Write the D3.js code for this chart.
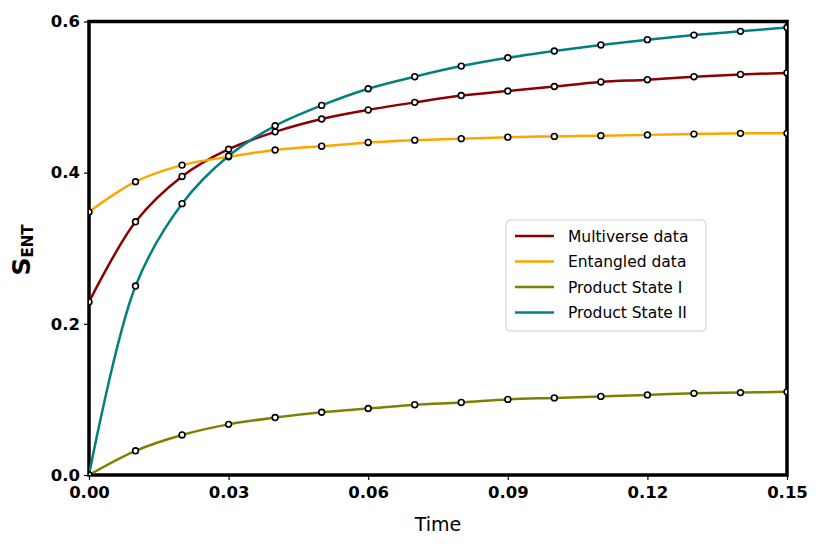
<!DOCTYPE html>
<html>
<head>
<meta charset="utf-8">
<script src="https://cdn.jsdelivr.net/npm/d3@7"></script>
<style>
  body { margin: 0; background: #fff; }
  text { font-family: "DejaVu Sans", sans-serif; }
</style>
</head>
<body>
<div id="chart"></div>
<script>
// sample times (markers every 0.01)
var times = [0, 0.01, 0.02, 0.03, 0.04, 0.05, 0.06, 0.07, 0.08, 0.09, 0.10, 0.11, 0.12, 0.13, 0.14, 0.15];
var multiverse = [0.229, 0.335, 0.395, 0.431, 0.454, 0.471, 0.483, 0.493, 0.502, 0.508, 0.514, 0.520, 0.523, 0.527, 0.530, 0.532];
var entangled = [0.348, 0.388, 0.410, 0.421, 0.430, 0.435, 0.440, 0.443, 0.445, 0.447, 0.448, 0.449, 0.450, 0.451, 0.452, 0.452];
var productI = [0, 0.032, 0.053, 0.067, 0.076, 0.083, 0.088, 0.093, 0.096, 0.100, 0.102, 0.104, 0.106, 0.108, 0.109, 0.110];
var productII = [0, 0.250, 0.359, 0.422, 0.462, 0.489, 0.511, 0.527, 0.541, 0.552, 0.561, 0.569, 0.576, 0.582, 0.587, 0.592];
var xTicks = [0, 0.03, 0.06, 0.09, 0.12, 0.15];
var yTicks = [0, 0.2, 0.4, 0.6];

var series = [
  { name: "Multiverse data", color: "#8b0000", values: multiverse },
  { name: "Entangled data", color: "#ffa500", values: entangled },
  { name: "Product State I", color: "#808000", values: productI },
  { name: "Product State II", color: "#008080", values: productII }
];

var w = 823, h = 554;
var margin = { left: 89, right: 36, top: 21.5, bottom: 79 };
var pw = w - margin.left - margin.right, ph = h - margin.top - margin.bottom;

var svg = d3.select("#chart").append("svg")
  .attr("width", w)
  .attr("height", h);

var x = d3.scaleLinear().domain([0, 0.15]).range([margin.left, w - margin.right]);
var y = d3.scaleLinear().domain([0, 0.6]).range([h - margin.bottom, margin.top]);

svg.append("defs").append("clipPath").attr("id", "clip")
  .append("rect")
  .attr("x", margin.left).attr("y", margin.top)
  .attr("width", pw).attr("height", ph);

// frame (under the data, markers sit on top of it)
svg.append("rect")
  .attr("x", margin.left)
  .attr("y", margin.top)
  .attr("width", pw)
  .attr("height", ph)
  .attr("fill", "none")
  .attr("stroke", "#000")
  .attr("stroke-width", 3.5);

var plot = svg.append("g").attr("clip-path", "url(#clip)");

var line = d3.line()
  .x(function(d) { return x(d[0]); })
  .y(function(d) { return y(d[1]); })
  .curve(d3.curveCatmullRom.alpha(0.5));

// lines
series.forEach(function(s) {
  var pts = times.map(function(t, i) { return [t, s.values[i]]; });
  plot.append("path")
    .datum(pts)
    .attr("d", line)
    .attr("fill", "none")
    .attr("stroke", s.color)
    .attr("stroke-width", 2.5);
});

// markers
series.forEach(function(s) {
  plot.append("g").selectAll("circle")
    .data(times.map(function(t, i) { return [t, s.values[i]]; }))
    .enter().append("circle")
    .attr("cx", function(d) { return x(d[0]); })
    .attr("cy", function(d) { return y(d[1]); })
    .attr("r", 2.9)
    .attr("fill", "#fff")
    .attr("stroke", "#000")
    .attr("stroke-width", 1.6);
});

// axes
var xAxis = svg.append("g")
  .attr("transform", "translate(0," + (h - margin.bottom) + ")")
  .call(d3.axisBottom(x).tickValues(xTicks).tickFormat(d3.format(".2f")).tickSize(5).tickPadding(6));
var yAxis = svg.append("g")
  .attr("transform", "translate(" + margin.left + ",0)")
  .call(d3.axisLeft(y).tickValues(yTicks).tickFormat(d3.format(".1f")).tickSize(5).tickPadding(4));

[xAxis, yAxis].forEach(function(a) {
  a.select(".domain").remove();
  a.selectAll(".tick line").attr("stroke", "#000").attr("stroke-width", 1.2);
  a.selectAll(".tick text")
    .attr("fill", "#000")
    .attr("font-size", "16.5px")
    .attr("font-weight", "bold")
    .attr("font-family", "DejaVu Sans, sans-serif");
});

// axis labels
svg.append("text")
  .attr("x", (margin.left + w - margin.right) / 2)
  .attr("y", 531)
  .attr("text-anchor", "middle")
  .attr("font-size", "19px")
  .text("Time");

var yl = svg.append("text")
  .attr("transform", "translate(30," + 250 + ") rotate(-90)")
  .attr("text-anchor", "middle")
  .attr("font-weight", "bold");
yl.append("tspan").attr("font-size", "25px").text("S");
yl.append("tspan").attr("font-size", "15px").attr("dy", 3).text("ENT");

// legend
var lg = svg.append("g").attr("transform", "translate(506,220)");
lg.append("rect")
  .attr("width", 200).attr("height", 111)
  .attr("rx", 4)
  .attr("fill", "#fff")
  .attr("fill-opacity", 0.8)
  .attr("stroke", "#ccc");
series.forEach(function(s, i) {
  var yy = 16 + i * 25.5;
  lg.append("line")
    .attr("x1", 9).attr("x2", 48)
    .attr("y1", yy).attr("y2", yy)
    .attr("stroke", s.color)
    .attr("stroke-width", 2.5);
  lg.append("text")
    .attr("x", 62).attr("y", yy + 5.5)
    .attr("font-size", "15.5px")
    .text(s.name);
});
</script>
</body>
</html>
